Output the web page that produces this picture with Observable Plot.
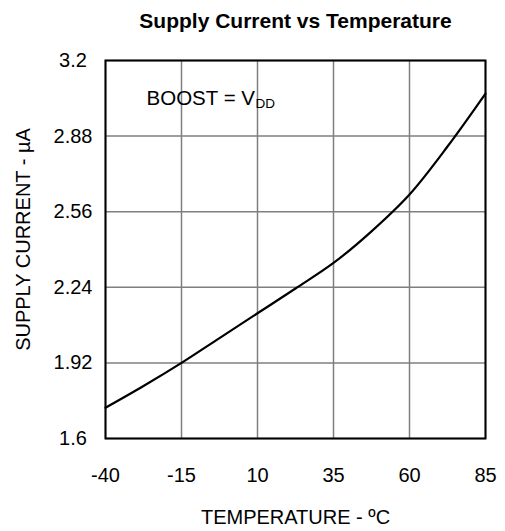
<!DOCTYPE html>
<html>
<head>
<meta charset="utf-8">
<script src="https://cdn.jsdelivr.net/npm/d3@7"></script>
<script src="https://cdn.jsdelivr.net/npm/@observablehq/plot@0.6"></script>
<style>
  html, body { margin: 0; padding: 0; background: #fff; }
  #chart svg { display: block; }
</style>
</head>
<body>
<div id="chart"></div>
<script>
const titleText = "Supply Current vs Temperature";
const xLabel = "TEMPERATURE - ºC";
const yLabel = "SUPPLY CURRENT - µA";
const annotationMain = "BOOST = V";
const annotationSub = "DD";
const annotationPos = {x: -26.5, y: 3.041};

const temperature = [-40, -27.5, -15, -2.5, 10, 22.5, 35, 47.5, 60, 72.5, 85];
const current =     [1.73, 1.822, 1.92, 2.025, 2.13, 2.235, 2.343, 2.477, 2.633, 2.836, 3.06];

const xTicks = [-40, -15, 10, 35, 60, 85];
const yTicks = [1.6, 1.92, 2.24, 2.56, 2.88, 3.2];

const data = temperature.map((t, i) => ({t, c: current[i]}));
const font = "Liberation Sans, Arial, Helvetica, sans-serif";
const fs = 20;

const chart = Plot.plot({
  width: 505,
  height: 531,
  marginTop: 60,
  marginBottom: 93,
  marginLeft: 105,
  marginRight: 20,
  style: {fontFamily: font, fontSize: fs + "px", color: "#000", background: "#fff"},
  x: {domain: [-40, 85], ticks: xTicks},
  y: {domain: [1.6, 3.2], ticks: yTicks},
  marks: [
    Plot.ruleX(xTicks, {stroke: "#7f7f7f", strokeWidth: 1.5}),
    Plot.ruleY(yTicks, {stroke: "#7f7f7f", strokeWidth: 1.5}),
    Plot.frame({stroke: "#000", strokeWidth: 2}),
    Plot.line(data, {x: "t", y: "c", curve: "catmull-rom", stroke: "#000", strokeWidth: 2.2}),
    Plot.axisX(xTicks, {tickSize: 0, tickPadding: 29, label: null, fontSize: fs, tickFormat: d => String(d)}),
    Plot.axisY(yTicks, {tickSize: 0, tickPadding: 32.5, textAnchor: "middle", label: null, fontSize: fs, tickFormat: d => String(d)}),
    Plot.text([titleText], {frameAnchor: "top", dy: -39, fontWeight: "bold", fontSize: 21, lineAnchor: "middle"}),
    Plot.text([xLabel], {frameAnchor: "bottom", dy: 79, fontSize: fs, lineAnchor: "middle"}),
    Plot.text([yLabel], {frameAnchor: "left", dx: -82, dy: -10, rotate: -90, textAnchor: "middle", fontSize: fs, lineAnchor: "middle"}),
    Plot.text([annotationPos], {x: "x", y: "y", text: () => annotationMain, textAnchor: "start", lineAnchor: "middle", fontSize: 20.5}),
    Plot.text([annotationPos], {x: "x", y: "y", text: () => annotationSub, textAnchor: "start", lineAnchor: "middle", fontSize: 13.5, dx: 109, dy: 5.5})
  ]
});
document.getElementById("chart").appendChild(chart);
</script>
</body>
</html>
